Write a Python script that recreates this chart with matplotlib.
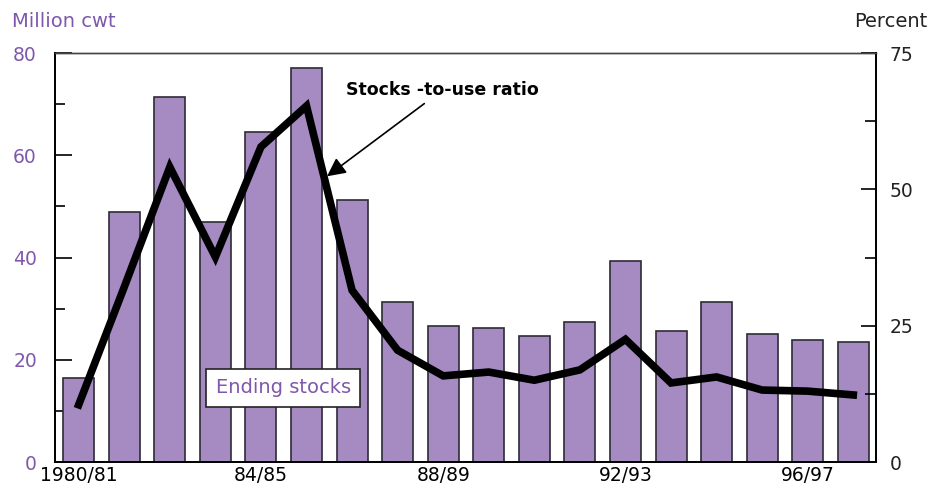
import numpy as np
import matplotlib.pyplot as plt
from matplotlib.ticker import MultipleLocator

# Ending stocks (million cwt) and stocks-to-use ratio (percent)
years = ["1980/81", "81/82", "82/83", "83/84", "84/85", "85/86", "86/87", "87/88",
         "88/89", "89/90", "90/91", "91/92", "92/93", "93/94", "94/95", "95/96",
         "96/97", "97/98"]
ending_stocks = [16.5, 49.0, 71.4, 47.0, 64.6, 77.1, 51.3, 31.4, 26.7, 26.3,
                 24.6, 27.4, 39.3, 25.7, 31.3, 25.0, 23.9, 23.5]
stocks_to_use = [10.5, 32.1, 54.1, 37.6, 57.8, 65.3, 31.5, 20.5, 15.8, 16.5,
                 15.0, 16.9, 22.5, 14.5, 15.6, 13.2, 13.0, 12.3]
shown_labels = {0: "1980/81", 4: "84/85", 8: "88/89", 12: "92/93", 16: "96/97"}

purple_bar = "#a68ac2"
purple_txt = "#7f58ab"

plt.rcParams['font.family'] = ['DejaVu Sans']

fig = plt.figure(figsize=(9.29, 4.87), dpi=100)
ax = fig.add_axes([0.0592, 0.0513, 0.8838, 0.8397])
ax2 = ax.twinx()

x = np.arange(len(years))
ax.bar(x, ending_stocks, width=0.68, color=purple_bar, edgecolor="#2e2a36", linewidth=1.2, zorder=2)
ax2.plot(x, stocks_to_use, color="black", lw=5.5, solid_joinstyle="miter", zorder=3)

ax.set_xlim(-0.52, 17.5)
ax.set_ylim(0, 80)
ax2.set_ylim(0, 75)

# bottom ticks at each bar, labels every fourth year
ax.set_xticks(x)
ax.set_xticklabels([shown_labels.get(i, "") for i in x], fontsize=13.5)
ax.tick_params(axis="x", direction="in", length=11.5, width=1, pad=3, colors="black")

ax.yaxis.set_major_locator(MultipleLocator(20))
ax.yaxis.set_minor_locator(MultipleLocator(10))
ax.tick_params(axis="y", which="both", direction="in", width=1.2,
               pad=13, labelsize=13.5, labelcolor=purple_txt, color="black")
ax.tick_params(axis="y", which="major", length=12)
ax.tick_params(axis="y", which="minor", length=7)

ax2.yaxis.set_major_locator(MultipleLocator(25))
ax2.yaxis.set_minor_locator(MultipleLocator(12.5))
ax2.tick_params(axis="y", which="both", direction="in", width=1.2,
                pad=10, labelsize=13.5, labelcolor="#222222", color="black")
ax2.tick_params(axis="y", which="major", length=11)
ax2.tick_params(axis="y", which="minor", length=8)

for a in (ax, ax2):
    for s in a.spines.values():
        s.set_linewidth(1.3)
        s.set_color("black")
    a.spines["top"].set_color("#444444")
    a.spines["top"].set_linewidth(1.0)

fig.text(0.013, 0.955, "Million cwt", color=purple_txt, fontsize=14, va="center", ha="left")
fig.text(0.998, 0.955, "Percent", color="#222222", fontsize=14, va="center", ha="right")

# labels for the series
ax.text(4.49, 14.5, "Ending stocks", color=purple_txt, fontsize=14, ha="center", va="center",
        zorder=5, bbox=dict(boxstyle="square,pad=0.48", fc="white", ec="#222222", lw=1.2))
ax2.annotate("Stocks -to-use ratio", xy=(5.45, 52.4), xytext=(7.98, 68.2),
             fontsize=12.5, fontweight="bold", ha="center", va="center", zorder=6,
             arrowprops=dict(arrowstyle="-|>", mutation_scale=28, lw=1.2, color="black",
                             shrinkA=2, shrinkB=0))

fig.savefig("out.png", dpi=100)
